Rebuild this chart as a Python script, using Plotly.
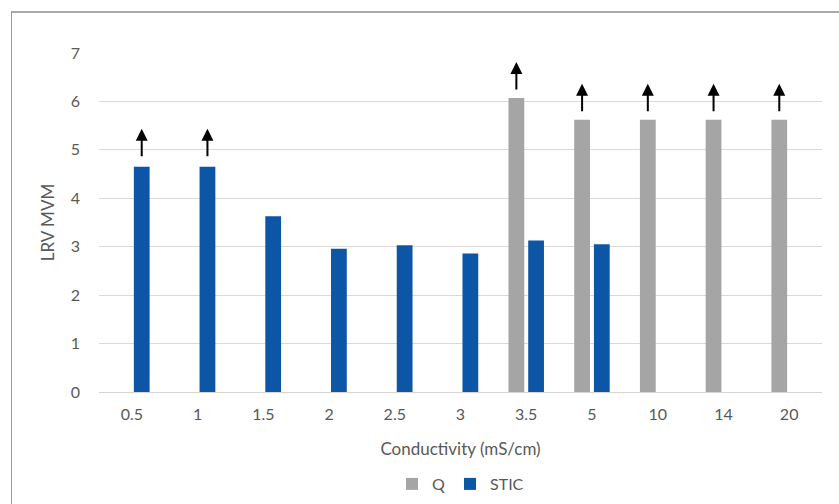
import plotly.graph_objects as go

categories = ["0.5", "1", "1.5", "2", "2.5", "3", "3.5", "5", "10", "14", "20"]
q_values = [None, None, None, None, None, None, 6.07, 5.62, 5.62, 5.62, 5.62]
stic_values = [4.65, 4.65, 3.63, 2.96, 3.03, 2.86, 3.13, 3.05, None, None, None]
q_arrow = [False, False, False, False, False, False, True, True, True, True, True]
stic_arrow = [True, True, False, False, False, False, False, False, False, False, False]

W, H = 839, 504
ML, MR, MT, MB = 99, 17, 53, 112
PW, PH = W - ML - MR, H - MT - MB

GRAY = "#a5a5a5"
BLUE = "#0d56a6"
FONT = "Lato, 'Noto Sans', sans-serif"
TXT = "#595959"

fig = go.Figure()
fig.add_trace(go.Bar(x=categories, y=q_values, name="Q", marker=dict(color=GRAY, line_width=0)))
fig.add_trace(go.Bar(x=categories, y=stic_values, name="STIC", marker=dict(color=BLUE, line_width=0)))

slot = PW / len(categories)
bargap = 0.4
group_w = slot * (1 - bargap)
offset = group_w / 4

for i, (v, a) in enumerate(zip(q_values, q_arrow)):
    if a and v is not None:
        fig.add_annotation(x=i, y=v, xref="x", yref="y", text="", showarrow=True,
                           ax=0, ay=29, xshift=-offset, yshift=36,
                           arrowhead=2, arrowsize=1.2, arrowwidth=2, arrowcolor="black")
for i, (v, a) in enumerate(zip(stic_values, stic_arrow)):
    if a and v is not None:
        fig.add_annotation(x=i, y=v, xref="x", yref="y", text="", showarrow=True,
                           ax=0, ay=29, xshift=offset, yshift=38,
                           arrowhead=2, arrowsize=1.2, arrowwidth=2, arrowcolor="black")

def px_to_paper_x(px):
    return (px - ML) / PW

def py_to_paper_y(py):
    return (H - MB - py) / PH

fig.add_shape(type="line", xref="paper", yref="paper",
              x0=px_to_paper_x(11), x1=px_to_paper_x(839), y0=py_to_paper_y(12), y1=py_to_paper_y(12),
              line=dict(color="#555555", width=1.2))
fig.add_shape(type="line", xref="paper", yref="paper",
              x0=px_to_paper_x(11.5), x1=px_to_paper_x(11.5), y0=py_to_paper_y(12), y1=py_to_paper_y(504),
              line=dict(color="#9a9a9a", width=1))

fig.update_layout(
    width=W, height=H,
    margin=dict(l=ML, r=MR, t=MT, b=MB, autoexpand=False),
    paper_bgcolor="white", plot_bgcolor="white",
    barmode="group", bargap=bargap, bargroupgap=0.2,
    font=dict(family=FONT, color=TXT, size=16),
    showlegend=True,
    legend=dict(orientation="h", x=0.5, xanchor="center", y=py_to_paper_y(484), yanchor="middle",
                font=dict(size=16, color=TXT), itemwidth=30, tracegroupgap=0, itemsizing="constant"),
    xaxis=dict(type="category", automargin=False, showgrid=False, showline=True, linecolor="#d9d3cf",
               linewidth=1, ticks="", tickfont=dict(size=16, color=TXT), ticklabelstandoff=8,
               title=dict(text="Conductivity (mS/cm)", font=dict(size=17, color=TXT), standoff=20)),
    yaxis=dict(range=[0, 7], dtick=1, automargin=False, showgrid=True, gridcolor="#ddd8d4", gridwidth=1.3,
               zeroline=False, showline=False, ticks="", ticklabelstandoff=18,
               tickfont=dict(size=16, color=TXT),
               title=dict(text="LRV MVM", font=dict(size=17, color=TXT), standoff=11)),
)

fig.write_html("out.html", config={"displayModeBar": False},
               post_script="document.body.style.margin='0px';")
